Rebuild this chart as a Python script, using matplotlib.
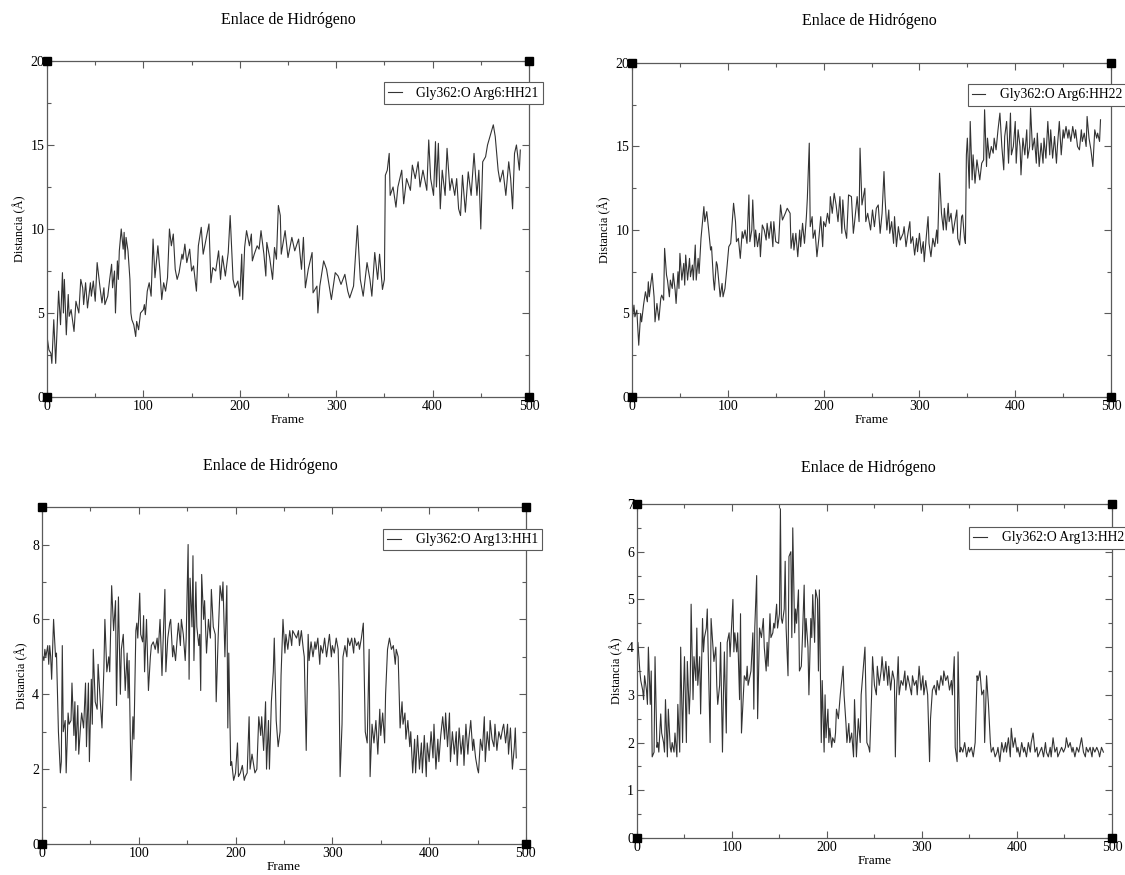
import numpy as np
import matplotlib
matplotlib.use('Agg')
import matplotlib.pyplot as plt
from matplotlib.ticker import MultipleLocator

plt.rcParams['font.family'] = ['Liberation Serif', 'DejaVu Serif']

TITLE = 'Enlace de Hidrógeno'
XLABEL = 'Frame'
YLABEL = 'Distancia (Å)'

# (frame, distancia)
HH21 = np.array([
    (0,3.6),(2,2.8),(4,2.6),(5,2.0),(7,4.6),(9,2.0),(12,6.3),(14,4.3),(16,7.4),(17,5.0),(18,7.0),(20,3.7),
    (22,6.1),(23,4.8),(25,5.2),(28,3.9),(30,5.7),(33,5.0),(35,7.0),(37,6.5),(38,5.5),(40,6.8),(42,5.3),(45,6.8),
    (46,6.0),(48,6.9),(50,5.7),(52,8.0),(55,6.5),(57,5.6),(59,6.5),(60,5.5),(63,6.0),(65,7.0),(67,7.9),(68,6.5),
    (70,7.5),(71,5.0),(73,8.1),(74,7.0),(75,8.7),(77,10.0),(79,8.8),(80,9.8),(81,8.2),(82,9.5),(84,8.7),(86,7.0),
    (87,5.0),(88,4.6),(90,4.3),(92,3.6),(93,4.5),(95,4.0),(97,5.0),(100,5.2),(101,5.5),(102,4.9),(104,6.3),(106,6.8),
    (108,6.0),(110,9.4),(112,7.1),(115,9.0),(117,7.6),(119,5.8),(121,6.8),(123,6.3),(125,7.1),(127,10.0),(129,9.0),
    (131,9.7),(133,7.6),(135,7.0),(137,7.4),(140,8.5),(141,8.2),(143,9.1),(145,8.0),(148,8.8),(150,7.5),(152,7.8),
    (155,6.3),(157,9.0),(160,10.1),(162,8.5),(165,9.4),(168,10.3),(170,6.8),(172,7.7),(175,7.5),(178,8.7),(180,7.0),
    (182,8.4),(185,7.2),(188,8.6),(190,10.8),(193,7.0),(195,6.5),(198,6.9),(200,6.0),(202,8.5),(203,5.8),(205,8.9),
    (207,9.9),(210,9.0),(212,9.7),(213,8.1),(215,8.5),(218,9.0),(220,8.8),(222,9.9),(225,8.5),(227,7.2),(228,9.2),
    (231,8.3),(234,7.0),(236,8.9),(238,8.2),(240,11.4),(242,10.8),(243,8.5),(247,9.9),(250,8.3),(254,9.5),(257,8.7),
    (261,9.4),(264,7.6),(266,9.5),(268,6.5),(271,7.6),(275,8.6),(276,6.2),(280,6.6),(281,5.0),(283,6.6),(287,8.1),
    (290,7.6),(295,5.8),(299,7.4),(302,7.2),(305,6.7),(309,7.3),(312,6.3),(314,5.9),(318,6.6),(322,10.2),(325,7.0),
    (328,6.0),(332,8.0),(335,7.0),(337,6.0),(340,8.6),(343,7.0),(345,8.5),(348,6.4),(350,7.0),(351,13.2),(353,13.5),
    (355,14.5),(356,12.0),(359,12.5),(362,11.3),(364,12.5),(368,13.5),(370,11.5),(373,13.0),(377,12.3),(379,13.8),
    (382,13.0),(385,14.0),(387,12.5),(390,13.5),(394,12.3),(396,15.3),(398,13.0),(401,12.0),(403,15.2),(404,12.5),
    (406,15.1),(408,11.2),(410,13.5),(413,12.0),(415,14.8),(418,12.3),(420,13.0),(423,12.0),(425,13.0),(427,11.2),
    (429,10.8),(431,13.2),(434,11.0),(437,13.4),(440,12.0),(443,14.5),(446,12.0),(448,13.5),(450,10.0),(452,14.0),
    (455,14.3),(457,15.0),(460,15.6),(463,16.2),(465,15.5),(468,13.5),(470,12.8),(473,13.5),(476,12.0),(479,14.0),
    (481,13.0),(483,11.2),(485,14.5),(487,15.0),(490,13.5),(491,14.7),
])

HH22 = np.array([
    (0,4.5),(2,5.5),(3,4.8),(5,5.2),(7,3.1),(9,5.0),(10,4.5),(12,5.5),(14,6.3),(16,5.7),(17,6.9),(18,6.0),(19,6.5),
    (21,7.4),(23,6.0),(24,4.5),(26,5.6),(28,4.6),(30,5.9),(31,6.1),(33,5.8),(34,8.9),(36,7.3),(37,7.0),(39,6.0),
    (40,7.0),(42,6.5),(43,7.4),(45,6.4),(46,5.6),(48,7.5),(49,6.5),(50,8.6),(52,7.0),(54,8.0),(55,6.7),(56,8.5),
    (58,7.0),(60,8.3),(61,7.2),(63,7.9),(64,7.0),(66,9.1),(67,7.0),(69,8.3),(70,7.4),(71,8.5),(72,9.5),(75,11.4),
    (76,10.5),(78,11.1),(80,10.0),(82,8.8),(83,9.0),(85,7.0),(86,6.4),(88,8.1),(89,7.9),(91,6.6),(92,6.0),(94,6.8),
    (95,6.0),(97,6.5),(99,7.7),(101,9.0),(103,9.2),(106,11.6),(108,10.5),(109,9.3),(111,9.5),(113,8.3),(115,9.9),
    (116,9.5),(118,10.0),(120,9.2),(122,12.1),(123,9.3),(125,10.0),(126,11.8),(128,9.0),(129,10.0),(131,9.0),
    (133,9.8),(134,8.4),(136,10.3),(138,10.0),(140,9.4),(141,10.4),(143,9.5),(145,10.5),(147,9.0),(148,10.5),
    (150,9.3),(153,9.2),(155,11.5),(157,10.6),(160,11.0),(162,11.3),(165,11.0),(166,8.9),(168,9.8),(169,8.8),
    (171,9.8),(173,8.4),(175,10.0),(176,9.0),(178,10.4),(180,9.2),(182,10.8),(183,11.9),(185,15.2),(186,10.2),
    (188,10.8),(189,9.5),(191,10.0),(193,8.4),(195,9.5),(197,10.8),(199,9.0),(200,10.5),(202,10.2),(204,11.0),
    (206,10.4),(207,12.0),(209,11.0),(211,12.2),(213,11.5),(215,10.5),(217,12.0),(219,9.8),(220,11.8),(222,10.1),
    (224,9.5),(226,12.1),(229,12.0),(231,9.8),(232,10.3),(235,12.0),(237,10.5),(238,14.9),(240,11.5),(243,12.5),
    (244,10.5),(246,11.0),(249,10.0),(251,11.2),(253,10.2),(255,11.3),(257,11.5),(259,9.8),(261,11.0),(263,13.5),
    (264,12.0),(266,10.0),(268,11.2),(269,9.8),(271,10.5),(273,9.2),(274,10.8),(276,9.0),(278,10.2),(280,9.4),
    (283,9.8),(284,10.2),(286,9.0),(288,9.8),(290,10.5),(291,9.2),(293,9.6),(295,8.5),(297,9.5),(298,8.7),
    (300,9.8),(302,8.6),(304,9.3),(305,8.1),(307,9.5),(309,10.8),(310,9.2),(312,8.4),(314,9.5),(316,9.0),
    (318,10.0),(319,9.2),(321,13.4),(323,11.0),(325,10.0),(326,11.3),(328,10.0),(330,11.6),(331,10.5),(333,11.0),
    (335,9.8),(337,10.5),(339,11.2),(340,9.5),(342,9.1),(344,10.8),(345,10.9),(347,9.5),(348,9.2),(349,14.5),
    (350,15.5),(352,12.5),(353,16.5),(355,13.0),(356,14.5),(358,12.8),(360,14.2),(361,13.8),(363,13.0),(365,14.0),
    (367,14.2),(368,17.2),(370,13.8),(371,15.5),(373,14.3),(375,15.0),(377,14.6),(378,15.5),(380,14.8),(382,16.0),
    (384,17.0),(386,15.0),(388,13.6),(389,15.6),(391,16.5),(393,14.0),(395,17.0),(396,14.5),(398,15.0),(400,16.5),
    (401,14.0),(403,16.0),(405,15.0),(406,13.3),(408,15.5),(410,14.5),(412,16.0),(413,14.3),(415,15.0),(416,17.3),
    (418,14.8),(420,15.5),(422,14.0),(423,15.8),(425,13.8),(427,15.2),(429,14.0),(430,15.5),(432,14.3),(434,16.5),
    (436,14.5),(437,16.0),(439,14.3),(441,15.6),(443,14.0),(444,15.0),(446,16.5),(448,14.5),(450,16.0),(451,15.5),
    (453,16.2),(455,15.5),(456,16.0),(458,15.3),(460,16.2),(462,15.5),(463,16.0),(465,15.0),(467,14.8),(469,16.0),
    (470,15.3),(472,15.8),(474,15.0),(475,16.8),(477,15.5),(479,14.8),(481,13.8),(483,16.0),(485,15.5),(486,15.8),
    (488,15.3),(489,16.6),
])

HH1 = np.array([
    (1,5.0),(2,4.9),(3,5.2),(4,5.0),(6,5.3),(7,4.8),(8,5.3),(9,5.0),(10,4.4),(12,6.0),(14,5.0),(15,5.1),(17,3.0),
    (19,1.9),(20,2.2),(21,5.3),(22,3.0),(24,3.3),(25,1.9),(27,3.5),(28,3.2),(30,3.3),(31,4.3),(33,2.9),(34,3.8),
    (35,2.5),(37,3.7),(38,2.4),(40,3.2),(41,3.5),(43,3.1),(45,4.3),(46,2.6),(48,4.3),(49,2.2),(51,4.4),(52,3.2),
    (53,5.2),(55,3.8),(57,3.6),(58,4.8),(60,3.9),(62,3.1),(64,4.7),(65,6.0),(67,4.6),(69,5.0),(70,4.6),(72,6.9),
    (74,5.7),(76,6.5),(77,3.7),(79,6.6),(81,4.0),(82,5.2),(84,5.6),(86,4.1),(88,5.1),(89,3.9),(90,4.9),(92,1.7),
    (94,3.4),(95,2.8),(97,5.7),(98,5.9),(99,5.5),(101,6.7),(102,5.6),(104,5.4),(105,6.1),(106,4.6),(108,6.0),
    (110,4.1),(112,5.0),(113,5.3),(115,5.4),(117,5.2),(119,5.5),(120,5.1),(122,6.0),(124,4.5),(125,5.3),(127,6.8),
    (128,4.6),(130,5.5),(132,5.9),(133,6.0),(135,5.0),(136,5.3),(138,4.9),(140,5.6),(141,5.9),(143,5.3),(144,6.0),
    (146,5.6),(148,4.9),(149,5.5),(151,8.0),(152,4.4),(153,7.1),(155,5.8),(156,7.7),(157,4.9),(159,7.0),(160,5.8),
    (162,5.3),(163,5.6),(164,4.1),(165,7.2),(167,6.0),(168,6.5),(170,5.1),(172,6.0),(174,5.5),(175,6.8),(177,5.8),
    (179,5.6),(180,3.8),(182,5.5),(184,6.9),(186,6.5),(187,7.0),(189,5.0),(191,6.9),(192,3.1),(193,5.1),(195,2.1),
    (196,2.2),(198,1.7),(200,1.9),(202,2.7),(203,1.8),(205,1.9),(207,2.1),(209,1.7),(210,1.8),(212,1.9),(214,3.4),
    (215,2.0),(217,2.4),(220,1.9),(222,2.0),(224,3.4),(226,2.9),(227,3.4),(229,2.5),(231,3.8),(232,2.0),(234,3.3),
    (235,2.0),(237,3.8),(239,4.6),(240,5.5),(242,3.3),(244,2.6),(246,3.0),(247,4.5),(249,6.0),(251,5.1),(252,5.6),
    (254,5.2),(256,5.7),(258,5.3),(259,5.7),(261,5.6),(263,5.5),(265,5.7),(266,5.3),(268,5.7),(270,5.2),(271,5.0),
    (273,2.5),(275,5.6),(276,4.9),(278,5.4),(280,5.0),(282,5.4),(283,5.2),(285,5.5),(287,4.8),(288,5.3),(290,5.1),
    (292,5.5),(294,5.0),(295,5.2),(297,5.6),(299,5.0),(300,5.3),(302,5.1),(304,5.5),(306,5.2),(307,4.1),(308,1.8),
    (310,3.2),(311,5.0),(313,5.3),(315,5.0),(316,5.5),(318,5.3),(320,5.5),(322,5.1),(323,5.5),(325,5.3),(327,5.4),
    (328,5.2),(330,5.5),(332,5.9),(333,4.5),(334,3.0),(336,2.7),(338,5.2),(339,1.8),(341,3.2),(343,2.7),(345,3.3),
    (347,2.4),(349,3.6),(350,2.9),(352,3.5),(354,2.7),(355,4.0),(357,5.2),(359,5.5),(361,5.2),(363,5.3),(365,4.8),
    (366,5.2),(368,5.0),(370,3.1),(372,3.8),(373,3.2),(375,3.5),(376,2.8),(378,3.3),(380,2.6),(381,3.0),(383,1.9),
    (385,2.8),(386,1.9),(388,2.9),(390,2.0),(392,2.7),(393,1.9),(395,2.9),(397,1.8),(398,2.7),(400,2.2),(402,3.0),
    (404,2.3),(405,3.2),(407,2.0),(409,2.8),(410,2.2),(412,2.9),(414,3.4),(416,2.8),(417,3.5),(419,2.6),(421,3.5),
    (422,2.2),(424,3.0),(426,2.4),(428,3.0),(429,2.1),(431,3.1),(433,2.4),(435,2.9),(436,2.1),(438,3.2),(440,2.4),
    (441,2.8),(443,3.3),(445,2.5),(446,2.8),(448,2.3),(450,2.0),(451,1.9),(453,2.8),(455,2.5),(457,3.4),(458,2.2),
    (460,3.0),(462,2.5),(463,3.3),(465,2.8),(467,2.6),(468,3.2),(470,2.5),(472,3.0),(474,2.8),(476,3.1),(477,3.2),
    (479,2.7),(481,3.2),(482,2.4),(484,3.1),(486,2.0),(488,2.6),(489,3.1),(490,2.3),
])

HH2 = np.array([
    (0,3.7),(1,4.1),(3,3.5),(4,3.3),(6,3.1),(7,2.9),(8,3.4),(10,3.1),(11,2.8),(12,4.0),(14,2.8),(15,3.5),(16,1.7),
    (18,1.8),(19,3.8),(21,1.9),(22,2.0),(23,1.8),(25,2.6),(26,2.2),(28,2.0),(29,1.8),(30,2.9),(32,1.7),(33,2.7),
    (35,1.9),(36,1.8),(37,2.0),(39,1.8),(40,2.2),(42,1.7),(43,2.8),(45,1.8),(46,4.0),(48,2.0),(49,3.1),(50,3.8),
    (52,2.0),(53,3.7),(55,2.6),(56,3.1),(57,4.9),(59,2.9),(60,3.8),(62,3.3),(63,4.4),(64,3.2),(66,3.8),(67,2.6),
    (69,4.6),(70,3.9),(71,4.2),(73,4.4),(74,4.8),(76,3.0),(77,2.0),(78,4.6),(80,4.0),(81,3.7),(83,4.0),(84,3.2),
    (85,2.8),(87,3.2),(88,4.1),(90,1.8),(91,3.0),(92,3.9),(94,2.2),(95,4.1),(97,4.3),(98,3.8),(99,4.2),(101,5.0),
    (102,3.9),(103,4.3),(105,3.9),(106,4.3),(108,2.9),(109,4.7),(110,2.2),(112,3.0),(113,3.4),(115,3.3),(116,3.6),
    (117,3.2),(119,3.4),(120,3.5),(122,4.3),(123,2.7),(124,4.4),(126,5.5),(127,2.5),(129,4.4),(130,4.3),(131,4.2),
    (133,4.6),(134,4.0),(136,3.5),(137,4.1),(138,3.6),(140,4.7),(141,4.2),(143,4.3),(144,4.5),(145,4.4),(147,4.9),
    (148,4.4),(150,4.7),(151,6.9),(152,4.6),(153,4.5),(155,4.8),(156,5.8),(157,4.4),(159,3.4),(160,5.9),(162,6.0),
    (163,4.2),(164,6.5),(166,4.3),(167,4.8),(168,4.5),(170,5.2),(171,3.5),(173,3.6),(174,4.1),(176,5.3),(177,4.0),
    (178,4.6),(180,4.0),(181,3.0),(183,4.6),(184,4.2),(185,5.1),(187,4.1),(188,5.2),(190,5.0),(191,3.5),(192,5.2),
    (194,2.0),(195,3.3),(197,1.8),(198,3.0),(199,2.1),(201,2.7),(202,2.0),(203,2.3),(205,1.9),(206,2.1),(208,2.0),
    (209,2.2),(210,2.7),(212,2.5),(214,3.0),(216,3.4),(217,3.6),(218,3.0),(220,2.4),(221,2.0),(223,2.4),(224,2.0),
    (226,2.2),(228,1.7),(229,2.9),(231,1.7),(233,2.5),(235,2.0),(236,3.0),(238,3.5),(240,4.0),(242,2.0),(244,1.9),
    (245,1.8),(247,3.0),(248,3.8),(250,3.2),(252,3.0),(253,3.6),(255,3.2),(257,3.5),(258,3.8),(260,3.3),(262,3.7),
    (264,3.2),(265,3.6),(267,3.1),(269,3.5),(271,3.3),(272,1.7),(273,2.9),(275,3.8),(276,3.0),(278,3.3),(280,3.2),
    (282,3.5),(283,3.1),(285,3.4),(287,3.2),(289,3.0),(290,3.4),(292,3.2),(294,3.3),(295,3.0),(297,3.6),(299,3.1),
    (301,3.4),(302,3.0),(304,3.3),(306,3.0),(308,1.6),(309,2.5),(311,3.1),(313,3.2),(315,3.0),(316,3.3),(318,3.1),
    (320,3.4),(322,3.2),(323,3.5),(325,3.3),(327,3.4),(329,3.1),(331,3.3),(332,3.0),(334,3.8),(335,1.9),(337,1.6),
    (338,3.9),(340,1.8),(341,1.9),(343,1.8),(345,2.0),(347,1.7),(349,1.9),(350,1.8),(352,1.9),(354,1.7),(356,2.0),
    (358,3.4),(359,3.3),(361,3.5),(363,3.0),(365,3.1),(366,2.0),(368,3.4),(370,2.8),(372,2.0),(373,1.8),(375,1.9),
    (377,1.7),(379,1.8),(380,1.9),(382,1.6),(384,2.0),(386,1.8),(388,2.0),(389,1.8),(391,2.1),(393,1.7),(394,2.3),
    (396,1.9),(398,2.1),(400,1.8),(401,1.9),(403,1.7),(405,2.0),(407,1.8),(408,1.9),(410,1.7),(412,2.0),(414,1.8),
    (415,2.0),(417,2.2),(419,1.8),(421,1.9),(422,1.7),(424,1.8),(426,1.9),(428,1.7),(430,2.0),(431,1.8),(433,1.7),
    (435,1.9),(436,1.7),(438,2.1),(440,1.8),(442,1.9),(443,1.7),(445,1.8),(447,1.9),(449,1.8),(451,1.9),(452,2.1),
    (454,1.9),(456,2.0),(458,1.8),(459,1.9),(461,1.7),(463,1.9),(465,1.8),(466,1.9),(468,2.1),(470,1.8),(472,1.7),
    (473,1.9),(475,1.8),(477,1.9),(479,1.7),(480,1.9),(482,1.8),(484,1.9),(486,1.8),(487,1.7),(489,1.9),(491,1.8),
])

LABELS = ['Gly362:O Arg6:HH21', 'Gly362:O Arg6:HH22', 'Gly362:O Arg13:HH1', 'Gly362:O Arg13:HH2']
YMAX = [20, 20, 9, 7]
YMAJOR = [5, 5, 2, 1]
YMINOR = [2.5, 2.5, 1, 0.5]

fig = plt.figure(figsize=(11.25, 8.75), dpi=100)

# posicion de cada panel en la figura, ancla de la leyenda y titulo
layout = [
    ([0.0418, 0.5463, 0.4284, 0.3840], (1.029, 0.936), (0.256, 0.977)),
    ([0.5618, 0.5463, 0.4258, 0.3817], (1.033, 0.936), (0.773, 0.976)),
    ([0.0373, 0.0354, 0.4302, 0.3851], (1.033, 0.934), (0.240, 0.467)),
    ([0.5662, 0.0423, 0.4222, 0.3817], (1.034, 0.930), (0.772, 0.465)),
]

line_col = '#333333'
axis_col = '#5a5a5a'

for data, lab, ymax, ymaj, ymin, (rect, leg_anchor, tpos) in zip(
        [HH21, HH22, HH1, HH2], LABELS, YMAX, YMAJOR, YMINOR, layout):
    ax = fig.add_axes(rect)
    ax.plot(data[:, 0], data[:, 1], color=line_col, lw=0.8, label=lab)
    ax.set_xlim(0, 500)
    ax.set_ylim(0, ymax)
    ax.xaxis.set_major_locator(MultipleLocator(100))
    ax.xaxis.set_minor_locator(MultipleLocator(50))
    ax.yaxis.set_major_locator(MultipleLocator(ymaj))
    ax.yaxis.set_minor_locator(MultipleLocator(ymin))
    ax.tick_params(which='both', direction='in', top=True, right=True,
                   labelsize=10, pad=2, color=axis_col)
    ax.tick_params(which='major', length=5, width=0.8)
    ax.tick_params(which='minor', length=3, width=0.8)
    for s in ax.spines.values():
        s.set_color(axis_col)
        s.set_linewidth(0.9)
    ax.set_xlabel(XLABEL, fontsize=9.5, labelpad=1)
    ax.set_ylabel(YLABEL, fontsize=8.8, labelpad=3)
    leg = ax.legend(loc='upper right', bbox_to_anchor=leg_anchor, fontsize=9.8,
                    frameon=True, fancybox=False, framealpha=1, edgecolor=axis_col,
                    handlelength=1.0, borderpad=0.3, handletextpad=1.1,
                    borderaxespad=0)
    leg.get_frame().set_linewidth(0.8)
    # cuadritos negros en las esquinas (estilo xmgrace)
    ax.plot([0, 1, 0, 1], [0, 0, 1, 1], 's', color='black', ms=6,
            transform=ax.transAxes, clip_on=False, zorder=5)
    fig.text(tpos[0], tpos[1], TITLE, ha='center', va='center', fontsize=11.5)

fig.savefig('out.png', dpi=100)
